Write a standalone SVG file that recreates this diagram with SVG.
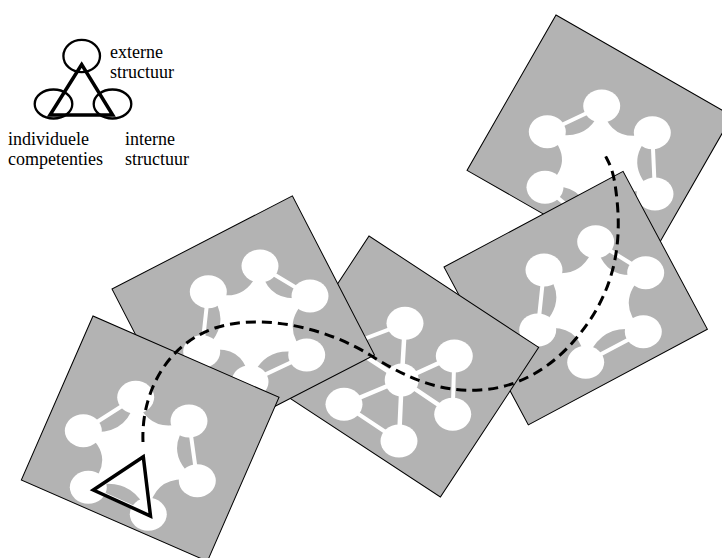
<svg xmlns="http://www.w3.org/2000/svg" width="722" height="558" viewBox="0 0 722 558">
  <style>
    .panel { fill: #b3b3b3; stroke: #000; stroke-width: 1; }
    .node { fill: #fff; }
    .core { fill: #fff; }
    .link { stroke: #fff; stroke-width: 4; fill: none; }
    .spoke { stroke: #fff; stroke-width: 4.5; fill: none; }
    .ring { fill: none; stroke: #000; stroke-width: 2.3; }
    .tri { fill: none; stroke: #000; stroke-width: 3.5; stroke-linejoin: miter; }
    .path { fill: none; stroke: #000; stroke-width: 3; stroke-dasharray: 10 6; }
    text { font-family: "Liberation Serif", "Times New Roman", serif; font-size: 18px; fill: #000; }
  </style>
  <defs>
    <rect id="sheet" class="panel" x="0" y="0" width="203" height="179"/>
  </defs>

  <!-- legend -->
  <g id="legend">
    <ellipse class="ring" cx="81.7" cy="56" rx="18.3" ry="16.2"/>
    <ellipse class="ring" cx="53.5" cy="104" rx="18.8" ry="14.5"/>
    <ellipse class="ring" cx="112.5" cy="104" rx="18.8" ry="14.5"/>
    <polygon class="tri" points="81.7,64.5 50,115 112.7,115"/>
    <text x="110" y="58">externe</text>
    <text x="110" y="78">structuur</text>
    <text x="8" y="145">individuele</text>
    <text x="8" y="165">competenties</text>
    <text x="125" y="145">interne</text>
    <text x="125" y="165">structuur</text>
  </g>

  <!-- sheet 5 (back) -->
  <g id="panel-5">
    <use href="#sheet" transform="translate(556,15) rotate(29.8)"/>
    <path class="core" d="M601.7,106 Q610.1,145.55 652.3,132.7 Q620.8,163.15 655,194 Q608.7,181.8 592,226 Q586.7,180.45 545,187.3 Q577.8,161.6 547.3,131.7 Q589.1,145.3 601.7,106 Z"/>
    <path class="link" d="M547.3,131.7 L601.7,106 M652.3,132.7 L655,194 M592,226 L545,187.3"/>
    <ellipse class="node" cx="601.7" cy="106" rx="18.5" ry="16.5"/>
    <ellipse class="node" cx="652.3" cy="132.7" rx="18.5" ry="16.5"/>
    <ellipse class="node" cx="655" cy="194" rx="18.5" ry="16.5"/>
    <ellipse class="node" cx="592" cy="226" rx="18.5" ry="16.5"/>
    <ellipse class="node" cx="545" cy="187.3" rx="18.5" ry="16.5"/>
    <ellipse class="node" cx="547.3" cy="131.7" rx="18.5" ry="16.5"/>
  </g>

  <!-- sheet 4 -->
  <g id="panel-4">
    <use href="#sheet" transform="translate(444,267) rotate(-28.1)"/>
    <path class="core" d="M595.7,241.7 Q603.5,283.7 645.7,272.7 Q613,301.7 643.3,331.7 Q601,319.6 585.7,362.3 Q579.9,319.35 537.7,330 Q571.55,300.85 544,270 Q583.15,283.15 595.7,241.7 Z"/>
    <path class="link" d="M595.7,241.7 L645.7,272.7 M643.3,331.7 L585.7,362.3 M537.7,330 L544,270"/>
    <ellipse class="node" cx="595.7" cy="241.7" rx="18.5" ry="16.5"/>
    <ellipse class="node" cx="645.7" cy="272.7" rx="18.5" ry="16.5"/>
    <ellipse class="node" cx="643.3" cy="331.7" rx="18.5" ry="16.5"/>
    <ellipse class="node" cx="585.7" cy="362.3" rx="18.5" ry="16.5"/>
    <ellipse class="node" cx="537.7" cy="330" rx="18.5" ry="16.5"/>
    <ellipse class="node" cx="544" cy="270" rx="18.5" ry="16.5"/>
  </g>

  <!-- sheet 3: star -->
  <g id="panel-3">
    <use href="#sheet" transform="translate(369,236) rotate(33.3)"/>
    <path class="spoke" d="M401.7,380 L405,323.3 M401.7,380 L454.3,356 M401.7,380 L452.7,414.3 M401.7,380 L399,441 M401.7,380 L344,404.3 M401.7,380 L348,345"/>
    <path class="link" d="M454.3,356 L452.7,414.3 M344,404.3 L399,441 M405,323.3 L348,345"/>
    <ellipse class="node" cx="401.7" cy="380" rx="17" ry="16.5"/>
    <ellipse class="node" cx="405" cy="323.3" rx="18.5" ry="16.5"/>
    <ellipse class="node" cx="454.3" cy="356" rx="18.5" ry="16.5"/>
    <ellipse class="node" cx="452.7" cy="414.3" rx="18.5" ry="16.5"/>
    <ellipse class="node" cx="399" cy="441" rx="18.5" ry="16.5"/>
    <ellipse class="node" cx="344" cy="404.3" rx="18.5" ry="16.5"/>
    <ellipse class="node" cx="348" cy="345" rx="18.5" ry="16.5"/>
  </g>

  <!-- sheet 2 -->
  <g id="panel-2">
    <use href="#sheet" transform="translate(112,289) rotate(-27.3)"/>
    <path class="core" d="M260,266 Q267.6,306.6 310,296 Q277.05,324.4 306.7,355 Q265.05,341.55 250,381.7 Q243.95,340.9 201.7,351.7 Q235.6,322.9 208.3,291.7 Q247.3,305.75 260,266 Z"/>
    <path class="link" d="M260,266 L310,296 M306.7,355 L250,381.7 M201.7,351.7 L208.3,291.7"/>
    <ellipse class="node" cx="260" cy="266" rx="18.5" ry="16.5"/>
    <ellipse class="node" cx="310" cy="296" rx="18.5" ry="16.5"/>
    <ellipse class="node" cx="306.7" cy="355" rx="18.5" ry="16.5"/>
    <ellipse class="node" cx="250" cy="381.7" rx="18.5" ry="16.5"/>
    <ellipse class="node" cx="201.7" cy="351.7" rx="18.5" ry="16.5"/>
    <ellipse class="node" cx="208.3" cy="291.7" rx="18.5" ry="16.5"/>
  </g>

  <!-- sheet 1 (front) -->
  <g id="panel-1">
    <use href="#sheet" transform="translate(93,316) rotate(23.6)"/>
    <path class="core" d="M135.7,397.3 Q149.1,436.8 189,421 Q161.45,453.45 197.3,480.7 Q153.3,472.1 148.3,514.3 Q131.5,473.4 88.3,487.3 Q118.5,456.7 83.3,430.7 Q128,438.7 135.7,397.3 Z"/>
    <path class="link" d="M83.3,430.7 L135.7,397.3 M189,421 L197.3,480.7 M148.3,514.3 L88.3,487.3"/>
    <ellipse class="node" cx="135.7" cy="397.3" rx="18.5" ry="16.5"/>
    <ellipse class="node" cx="189" cy="421" rx="18.5" ry="16.5"/>
    <ellipse class="node" cx="197.3" cy="480.7" rx="18.5" ry="16.5"/>
    <ellipse class="node" cx="148.3" cy="514.3" rx="18.5" ry="16.5"/>
    <ellipse class="node" cx="88.3" cy="487.3" rx="18.5" ry="16.5"/>
    <ellipse class="node" cx="83.3" cy="430.7" rx="18.5" ry="16.5"/>
    <polygon id="marker-triangle" class="tri" points="143.3,456.7 93.3,490 150.5,516"/>
  </g>

  <!-- trajectory across the sheets -->
  <g id="connectors">
    <path class="path" d="M143,442 C141,395 165,345 215,328 C265,312 330,330 370,355 S440,392 480,390 S560,365 590,320 S620,230 617,200 S610,165 605,155"/>
  </g>
</svg>
